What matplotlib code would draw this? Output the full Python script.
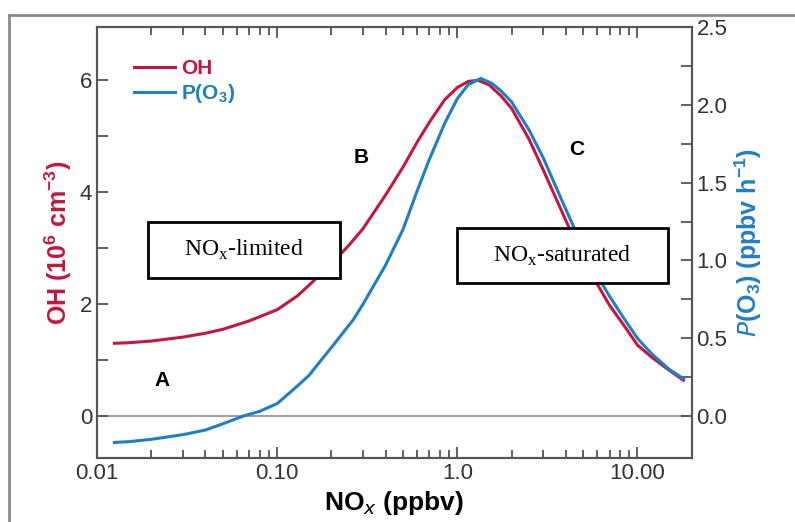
import numpy as np
import matplotlib
matplotlib.use("Agg")
import matplotlib.pyplot as plt
from matplotlib.patches import Rectangle
from matplotlib.lines import Line2D

# NOx (ppbv) y valores
nox_oh = [0.0125, 0.015, 0.02, 0.03, 0.04, 0.05, 0.07, 0.1, 0.13, 0.16, 0.2,
          0.25, 0.3, 0.4, 0.5, 0.6, 0.7, 0.85, 1.0, 1.15, 1.3, 1.5, 1.75, 2.0,
          2.5, 3.0, 4.0, 5.0, 6.0, 7.0, 8.5, 10.0, 12.0, 15.0, 18.0]
oh = [1.30, 1.31, 1.34, 1.41, 1.48, 1.55, 1.70, 1.90, 2.15, 2.42, 2.72,
      3.05, 3.35, 3.95, 4.45, 4.90, 5.25, 5.65, 5.87, 5.98, 6.00, 5.92, 5.72, 5.50,
      4.95, 4.40, 3.50, 2.82, 2.35, 1.98, 1.60, 1.27, 1.05, 0.82, 0.64]

nox_po3 = [0.0125, 0.015, 0.02, 0.03, 0.04, 0.05, 0.065, 0.08, 0.1, 0.123, 0.15,
           0.173, 0.2, 0.265, 0.3, 0.4, 0.5, 0.6, 0.7, 0.85, 1.0, 1.15, 1.35,
           1.55, 1.75, 2.0, 2.5, 3.0, 4.0, 5.0, 6.0, 7.0, 8.5, 10.0, 12.0, 15.0, 18.0]
po3 = [-0.17, -0.165, -0.15, -0.12, -0.09, -0.05, 0.00, 0.03, 0.08, 0.17, 0.26,
       0.35, 0.44, 0.62, 0.72, 0.97, 1.20, 1.45, 1.65, 1.88, 2.04, 2.13, 2.17,
       2.14, 2.09, 2.02, 1.84, 1.66, 1.33, 1.08, 0.90, 0.77, 0.62, 0.50, 0.40, 0.30, 0.24]

xticks = [0.01, 0.1, 1.0, 10.0]
xtick_labels = ["0.01", "0.10", "1.0", "10.00"]
oh_ticks = [0, 2, 4, 6]
po3_ticks = [0.0, 0.5, 1.0, 1.5, 2.0, 2.5]

red = "#c4163f"
blue = "#1f7fc4"

plt.rcParams['font.family'] = ['Liberation Sans', 'DejaVu Sans']

fig = plt.figure(figsize=(7.95, 5.22), dpi=100)
ax = fig.add_axes([0.122, 0.1226, 0.748, 0.8254])
ax2 = ax.twinx()

# marco exterior gris (solo arriba e izquierda)
fig.add_artist(Line2D([0.011, 1.0], [0.971, 0.971], color="#8a8a8a", lw=2))
fig.add_artist(Line2D([0.011, 0.011], [0.0, 0.971], color="#8a8a8a", lw=2))

ax.axhline(0, color="#a0a0a0", lw=1.5, zorder=1)

l1, = ax.plot(nox_oh, oh, color=red, lw=2.2, label="OH")
l2, = ax2.plot(nox_po3, po3, color=blue, lw=2.2, label="P(O$_\\mathregular{3}$)")

ax.set_xscale("log")
ax.set_xlim(0.01, 20)
ax.set_ylim(-0.75, 6.95)
ax2.set_ylim(-0.27, 2.5)

ax.set_xticks(xticks)
ax.set_xticklabels(xtick_labels)
ax.set_yticks(oh_ticks)
ax.set_yticks([1, 3, 5], minor=True)
ax2.set_yticks(po3_ticks)
ax2.set_yticks([0.25, 0.75, 1.25, 1.75, 2.25], minor=True)

for a in (ax, ax2):
    a.tick_params(which="both", direction="in", colors="#555555",
                  labelcolor="#333333", labelsize=16, width=1.3)
    a.tick_params(which="major", length=8)
    a.tick_params(which="minor", length=8)
    for s in a.spines.values():
        s.set_color("#555555")
        s.set_linewidth(1.5)
ax.tick_params(axis="x", which="minor", length=6)
ax.tick_params(axis="x", which="both", top=True)

ax.set_xlabel("NO$_\\mathit{x}$ (ppbv)", fontsize=19, fontweight="bold")
ax.set_ylabel("OH (10$^\\mathregular{6}$ cm$^\\mathregular{-3}$)", fontsize=18,
              fontweight="bold", color=red)
ax2.set_ylabel("$\\mathit{P}$(O$_\\mathregular{3}$) (ppbv h$^\\mathregular{-1}$)",
               fontsize=18, fontweight="bold", color=blue)

leg = ax.legend(handles=[l1, l2], loc="upper left", frameon=False,
                bbox_to_anchor=(0.03, 0.97), handlelength=2.0, handletextpad=0.3,
                labelspacing=0.2, prop={"weight": "bold", "size": 15})
for txt, c in zip(leg.get_texts(), [red, blue]):
    txt.set_color(c)

# cajas de regimen
ax2.add_patch(Rectangle((0.0857, 0.418), 0.323, 0.130, transform=ax.transAxes,
                        fill=True, facecolor="white", edgecolor="black", lw=2, zorder=5))
ax2.add_patch(Rectangle((0.605, 0.406), 0.356, 0.128, transform=ax.transAxes,
                        fill=True, facecolor="white", edgecolor="black", lw=2, zorder=5))
ax2.text(0.247, 0.483, "NO$_\\mathregular{x}$-limited", transform=ax.transAxes,
         ha="center", va="center", fontsize=17, family="Liberation Serif", zorder=6)
ax2.text(0.783, 0.469, "NO$_\\mathregular{x}$-saturated", transform=ax.transAxes,
         ha="center", va="center", fontsize=17, family="Liberation Serif", zorder=6)

for lab, xx, yy in [("A", 0.109, 0.181), ("B", 0.445, 0.698), ("C", 0.807, 0.715)]:
    ax2.text(xx, yy, lab, transform=ax.transAxes, ha="center", va="center",
             fontsize=15, fontweight="bold", zorder=6)

fig.savefig("out.png", dpi=100)
